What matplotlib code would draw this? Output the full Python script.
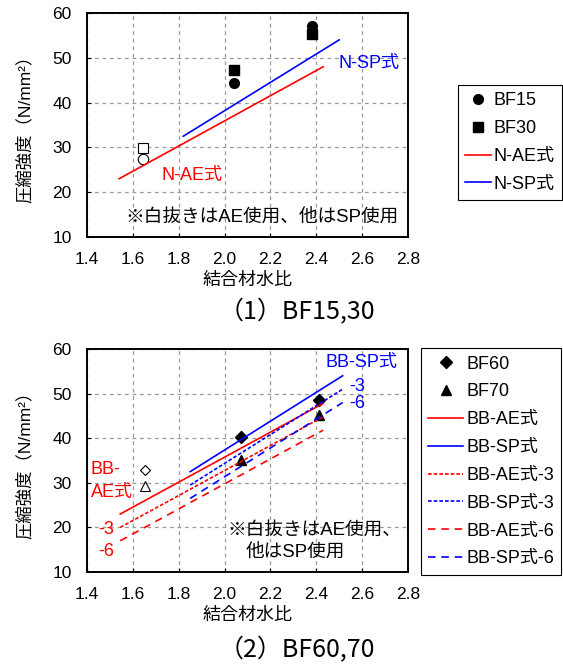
import matplotlib
matplotlib.use('Agg')
import matplotlib.pyplot as plt
from matplotlib import font_manager

plt.rcParams['font.family'] = ['Liberation Sans', 'Noto Sans CJK JP', 'DejaVu Sans']

# (1) BF15,30 測定値
bf15_x = [2.04, 2.38]
bf15_y = [44.3, 57.1]
bf30_x = [2.04, 2.38]
bf30_y = [47.3, 55.4]
bf15_ae_x = [1.645]
bf15_ae_y = [27.4]
bf30_ae_x = [1.645]
bf30_ae_y = [29.9]

# 推定式（端点）
n_ae_x = [1.54, 2.43]
n_ae_y = [23.0, 48.0]
n_sp_x = [1.82, 2.50]
n_sp_y = [32.5, 54.0]

# (2) BF60,70 測定値
bf60_x = [2.07, 2.41]
bf60_y = [40.2, 48.6]
bf70_x = [2.07, 2.41]
bf70_y = [35.1, 45.2]
bf60_ae_x = [1.652]
bf60_ae_y = [32.9]
bf70_ae_x = [1.652]
bf70_ae_y = [29.2]

bb_ae_x = [1.545, 2.43]
bb_ae_y = [23.0, 47.8]
bb_sp_x = [1.85, 2.515]
bb_sp_y = [32.5, 54.0]
bb_ae3_y = [20.0, 44.8]
bb_sp3_y = [29.5, 51.0]
bb_ae6_y = [17.0, 41.8]
bb_sp6_y = [26.5, 48.0]

RED = '#ff0000'
BLUE = '#0000ff'
W, H = 563, 664

# 見出し用の細いフォント（無ければ通常のもの）
try:
    font_manager.findfont('Liberation Sans Narrow', fallback_to_default=False)
    title_family = ['Liberation Sans Narrow', 'Noto Sans CJK JP']
except ValueError:
    title_family = ['Noto Sans CJK JP']

fig = plt.figure(figsize=(W / 100, H / 100), dpi=100)


def setup(ax, ylab_y):
    ax.set_xlim(1.4, 2.8)
    ax.set_ylim(10, 60)
    ax.set_xticks([1.4, 1.6, 1.8, 2.0, 2.2, 2.4, 2.6, 2.8])
    ax.set_xticklabels(['1.4', '1.6', '1.8', '2.0', '2.2', '2.4', '2.6', '2.8'])
    ax.set_yticks([10, 20, 30, 40, 50, 60])
    ax.tick_params(direction='in', length=3, width=0.8, labelsize=12.5, pad=11)
    ax.grid(True, color='#999999', linestyle=(0, (3, 3)), linewidth=0.9)
    for s in ax.spines.values():
        s.set_linewidth(1.4)
        s.set_color('black')
    ax.set_xlabel('結合材水比', fontsize=13, va='center')
    ax.xaxis.set_label_coords(0.5, ylab_y)
    ax.set_ylabel('圧縮強度（N/mm²）', fontsize=12.5, va='center')
    ax.yaxis.set_label_coords(-0.195, 0.5)


def legend(handles, x0, y0, hl):
    leg = fig.legend(handles=handles, loc='upper left',
                     bbox_to_anchor=(x0 / W, 1 - y0 / H),
                     fancybox=False, edgecolor='black', framealpha=1,
                     fontsize=13, handlelength=hl, handletextpad=0.15,
                     labelspacing=0.6, borderpad=0.4, borderaxespad=0)
    leg.get_frame().set_linewidth(0.8)


# ---- (1) BF15,30
ax1 = fig.add_axes([87 / W, 1 - 237 / H, 321 / W, 224 / H])
setup(ax1, -0.192)
h1 = ax1.plot(bf15_x, bf15_y, 'o', color='black', ms=7, ls='none', label='BF15')[0]
h2 = ax1.plot(bf30_x, bf30_y, 's', color='black', ms=7, ls='none', label='BF30')[0]
ax1.plot(bf15_ae_x, bf15_ae_y, 'o', mfc='white', mec='black', mew=0.8, ms=7.5)
ax1.plot(bf30_ae_x, bf30_ae_y, 's', mfc='white', mec='black', mew=0.8, ms=7.5)
h3 = ax1.plot(n_ae_x, n_ae_y, color=RED, lw=1.2, label='N-AE式')[0]
h4 = ax1.plot(n_sp_x, n_sp_y, color=BLUE, lw=1.2, label='N-SP式')[0]
ax1.text(2.495, 48.8, 'N-SP式', color=BLUE, fontsize=13, va='center')
ax1.text(1.727, 23.8, 'N-AE式', color=RED, fontsize=13, va='center')
ax1.text(2.76, 14.2, '※白抜きはAE使用、他はSP使用', fontsize=13.4, ha='right', va='center')
legend([h1, h2, h3, h4], 457.7, 85, 1.45)
fig.text(297 / W, 1 - 312 / H, '（1）BF15,30', fontsize=18, ha='center', va='center',
         family=title_family)

# ---- (2) BF60,70
ax2 = fig.add_axes([87 / W, 1 - 572 / H, 321 / W, 223 / H])
setup(ax2, -0.193)
g1 = ax2.plot(bf60_x, bf60_y, 'D', color='black', ms=6, ls='none', label='BF60')[0]
g2 = ax2.plot(bf70_x, bf70_y, '^', color='black', ms=7.5, ls='none', label='BF70')[0]
ax2.plot(bf60_ae_x, bf60_ae_y, 'D', mfc='white', mec='black', mew=0.8, ms=5.5)
ax2.plot(bf70_ae_x, bf70_ae_y, '^', mfc='white', mec='black', mew=0.8, ms=7)
g3 = ax2.plot(bb_ae_x, bb_ae_y, color=RED, lw=1.2, label='BB-AE式')[0]
g4 = ax2.plot(bb_sp_x, bb_sp_y, color=BLUE, lw=1.2, label='BB-SP式')[0]
g5 = ax2.plot(bb_ae_x, bb_ae3_y, color=RED, lw=1.2, ls=(0, (2.2, 1.2)), label='BB-AE式-3')[0]
g6 = ax2.plot(bb_sp_x, bb_sp3_y, color=BLUE, lw=1.2, ls=(0, (2.2, 1.2)), label='BB-SP式-3')[0]
g7 = ax2.plot(bb_ae_x, bb_ae6_y, color=RED, lw=1.2, ls=(0, (4.5, 3.5)), label='BB-AE式-6')[0]
g8 = ax2.plot(bb_sp_x, bb_sp6_y, color=BLUE, lw=1.2, ls=(0, (4.5, 3.5)), label='BB-SP式-6')[0]
ax2.text(2.44, 57.0, 'BB-SP式', color=BLUE, fontsize=13, va='center')
ax2.text(2.543, 51.7, '-3', color=BLUE, fontsize=13, va='center')
ax2.text(2.543, 47.8, '-6', color=BLUE, fontsize=13, va='center')
ax2.text(1.416, 32.9, 'BB-', color=RED, fontsize=13, va='center')
ax2.text(1.416, 27.9, 'AE式', color=RED, fontsize=13, va='center')
ax2.text(1.447, 19.6, '-3', color=RED, fontsize=13, va='center')
ax2.text(1.447, 14.7, '-6', color=RED, fontsize=13, va='center')
ax2.text(2.013, 19.4, '※白抜きはAE使用、', fontsize=13.4, va='center')
ax2.text(2.093, 14.3, '他はSP使用', fontsize=13.4, va='center')
legend([g1, g2, g3, g4, g5, g6, g7, g8], 421, 348.3, 1.95)
fig.text(297 / W, 1 - 650 / H, '（2）BF60,70', fontsize=18, ha='center', va='center',
         family=title_family)

fig.savefig('out.png', dpi=100)
